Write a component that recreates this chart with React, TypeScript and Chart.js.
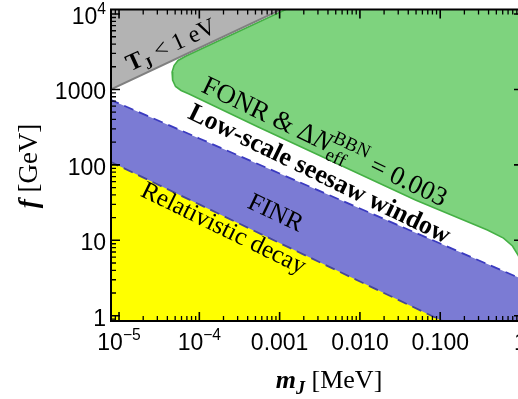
import React, { useEffect, useRef } from "react";
import { Chart, registerables } from "chart.js";

Chart.register(...registerables);

// ---------- axis ranges (log10) ----------
const X_MIN_LOG = -5.1;
const X_MAX_LOG = 0.031;
const Y_MIN_LOG = -0.07;
const Y_MAX_LOG = 4.06;

// ---------- region boundaries ----------
// T_J = 1 eV line (gray region above it)
const tjMass = [5e-6, 2e-3];
const tjF = [795, 15900];

// FINR band: upper dashed boundary
const finrUpperMass = [5e-6, 1e-4, 1e-3, 1e-2, 1e-1, 1.5];
const finrUpperF = [898, 224, 76.9, 26.4, 9.06, 2.58];

// FINR band: lower dashed boundary (top of the relativistic-decay region)
const finrLowerMass = [5e-6, 1e-4, 1e-3, 1e-2, 1e-1, 0.2];
const finrLowerF = [138, 29.9, 9.2, 2.84, 0.88, 0.62];

// FONR & ΔN_eff = 0.003 region (rounded outline)
const fonrMass = [6.84e-5, 5.43e-5, 4.85e-5, 4.58e-5, 4.65e-5, 5.06e-5, 5.93e-5, 7.46e-5, 5.41e-4, 0.0491, 0.387, 0.614, 0.794, 0.944, 1.089, 3.6, 3.6, 1.3e-3, 1.3e-3];
const fonrF = [2773, 2421, 2075, 1702, 1334, 1094, 968, 871, 318, 34.2, 13.7, 10.7, 8.4, 6.2, 4.04, 1.6, 30000, 30000, 12000];

// values outside the visible range used to close polygons
const FAR_LOW_F = 0.3;
const FAR_HIGH_F = 30000;
const FAR_LEFT_M = 5e-6;
const FAR_RIGHT_M = 1.5;

// ---------- ticks ----------
const xTickValues = [1e-5, 1e-4, 1e-3, 1e-2, 1e-1, 1];
const xTickLabels = ["10^\u22125", "10^\u22124", "0.001", "0.010", "0.100", "1"];
const yTickValues = [1, 10, 100, 1000, 10000];
const yTickLabels = ["1", "10", "100", "1000", "10^4"];

const W = 560;
const H = 399;
const PLOT = { left: 111, top: 9.5, right: 523, bottom: 321 };

type Seg = { t: string; b?: boolean; i?: boolean; k?: number; dy?: number; sub?: string; subDy?: number };

const SERIF = "'Liberation Serif', 'Times New Roman', serif";
const SANS = "'Liberation Sans', Arial, sans-serif";

// region labels: anchor in data coordinates
const regionLabels: { segs: Seg[]; m: number; f: number; angle: number; width: number }[] = [
  { segs: [{ t: "T", b: true }, { t: "J", b: true, k: 0.68, dy: 0.22 }, { t: " < 1 eV" }], m: 4.4e-5, f: 3950, angle: -24.5, width: 96 },
  {
    segs: [{ t: "FONR & \u0394" }, { t: "N", i: true }, { t: "BBN", k: 0.7, dy: -0.42, sub: "eff", subDy: 0.27 }, { t: " = 0.003" }],
    m: 3.67e-3, f: 207, angle: 25.5, width: 268,
  },
  { segs: [{ t: "Low-scale seesaw window", b: true }], m: 3.18e-3, f: 78, angle: 26, width: 288 },
  { segs: [{ t: "FINR" }], m: 9.0e-4, f: 23.7, angle: 25.5, width: 58 },
  { segs: [{ t: "Relativistic decay" }], m: 2.03e-4, f: 14.8, angle: 26, width: 180 },
];

const zip = (xs: number[], ys: number[]) => xs.map((x, i) => ({ x, y: ys[i] }));

function segFont(s: Seg, size: number, fam: string) {
  return `${s.i ? "italic " : ""}${s.b ? "bold " : ""}${(size * (s.k ?? 1)).toFixed(2)}px ${fam}`;
}
function segsWidth(ctx: CanvasRenderingContext2D, segs: Seg[], size: number, fam: string) {
  let w = 0;
  for (const s of segs) {
    ctx.font = segFont(s, size, fam);
    let sw = ctx.measureText(s.t).width;
    if (s.sub) sw = Math.max(sw, ctx.measureText(s.sub).width);
    w += sw;
  }
  return w;
}
function drawSegs(ctx: CanvasRenderingContext2D, segs: Seg[], x: number, y: number, size: number, fam: string, align: "left" | "center" | "right") {
  const w = segsWidth(ctx, segs, size, fam);
  let cx = align === "center" ? x - w / 2 : align === "right" ? x - w : x;
  ctx.textAlign = "left";
  ctx.textBaseline = "alphabetic";
  for (const s of segs) {
    ctx.font = segFont(s, size, fam);
    const tw = ctx.measureText(s.t).width;
    ctx.fillText(s.t, cx, y + (s.dy ?? 0) * size);
    let sw = tw;
    if (s.sub) {
      ctx.fillText(s.sub, cx, y + (s.subDy ?? 0) * size);
      sw = Math.max(tw, ctx.measureText(s.sub).width);
    }
    cx += sw;
  }
}
function tickSegs(label: string): Seg[] {
  const p = label.split("^");
  if (p.length === 1) return [{ t: label }];
  return [{ t: p[0] }, { t: p[1], k: 0.68, dy: -0.45 }];
}
function logTicks(minLog: number, maxLog: number) {
  const out: { v: number; major: boolean }[] = [];
  for (let d = Math.floor(minLog); d <= Math.ceil(maxLog); d++) {
    for (let k = 1; k < 10; k++) {
      const v = k * Math.pow(10, d);
      const lv = Math.log10(v);
      if (lv >= minLog - 1e-9 && lv <= maxLog + 1e-9) out.push({ v, major: k === 1 });
    }
  }
  return out;
}

const decoPlugin = {
  id: "deco",
  afterDatasetsDraw(chart: any) {
    const ctx: CanvasRenderingContext2D = chart.ctx;
    const xs = chart.scales.x;
    const ys = chart.scales.y;
    ctx.save();
    ctx.fillStyle = "#000";
    for (const L of regionLabels) {
      const size = (24 * L.width) / segsWidth(ctx, L.segs, 24, SERIF);
      const px = xs.getPixelForValue(L.m);
      const py = ys.getPixelForValue(L.f);
      ctx.save();
      ctx.translate(px, py);
      ctx.rotate((L.angle * Math.PI) / 180);
      drawSegs(ctx, L.segs, 0, 0.33 * size, size, SERIF, "center");
      ctx.restore();
    }
    ctx.restore();
  },
  afterDraw(chart: any) {
    const ctx: CanvasRenderingContext2D = chart.ctx;
    const xs = chart.scales.x;
    const ys = chart.scales.y;
    const { left, right, top, bottom } = chart.chartArea;
    ctx.save();
    ctx.strokeStyle = "#000";
    // ticks
    for (const t of logTicks(X_MIN_LOG, X_MAX_LOG)) {
      const px = xs.getPixelForValue(t.v);
      const len = t.major ? 9 : 5;
      ctx.lineWidth = t.major ? 1.6 : 1.3;
      ctx.beginPath();
      ctx.moveTo(px, bottom);
      ctx.lineTo(px, bottom - len);
      ctx.moveTo(px, top);
      ctx.lineTo(px, top + len);
      ctx.stroke();
    }
    for (const t of logTicks(Y_MIN_LOG, Y_MAX_LOG)) {
      const py = ys.getPixelForValue(t.v);
      const len = t.major ? 9 : 5;
      ctx.lineWidth = t.major ? 1.6 : 1.3;
      ctx.beginPath();
      ctx.moveTo(left, py);
      ctx.lineTo(left + len, py);
      ctx.moveTo(right, py);
      ctx.lineTo(right - len, py);
      ctx.stroke();
    }
    // frame
    ctx.lineWidth = 2;
    ctx.strokeRect(left, top, right - left, bottom - top);
    // tick labels
    ctx.fillStyle = "#000";
    xTickValues.forEach((v, i) => {
      const px = xs.getPixelForValue(v);
      drawSegs(ctx, tickSegs(xTickLabels[i]), px, bottom + 29, 23, SANS, "center");
    });
    yTickValues.forEach((v, i) => {
      const py = ys.getPixelForValue(v);
      drawSegs(ctx, tickSegs(yTickLabels[i]), left - 5, py + 10, 23, SANS, "right");
    });
    // axis titles
    drawSegs(
      ctx,
      [{ t: "m", b: true, i: true }, { t: "J", b: true, i: true, k: 0.7, dy: 0.22 }, { t: " [MeV]" }],
      329,
      388,
      26,
      SERIF,
      "center"
    );
    ctx.save();
    ctx.translate(37, 166);
    ctx.rotate(-Math.PI / 2);
    drawSegs(ctx, [{ t: "f", b: true, i: true }, { t: " [GeV]" }], 0, 0, 27, SERIF, "center");
    ctx.restore();
    ctx.restore();
  },
};

export default function App() {
  const ref = useRef<HTMLCanvasElement | null>(null);
  useEffect(() => {
    if (!ref.current) return;
    const gray = [...zip(tjMass, tjF), { x: FAR_LEFT_M, y: FAR_HIGH_F }];
    const green = zip(fonrMass, fonrF);
    const blue = [...zip(finrUpperMass, finrUpperF), { x: FAR_RIGHT_M, y: FAR_LOW_F }, { x: FAR_LEFT_M, y: FAR_LOW_F }];
    const yellow = [...zip(finrLowerMass, finrLowerF), { x: FAR_RIGHT_M, y: FAR_LOW_F }, { x: FAR_LEFT_M, y: FAR_LOW_F }];
    const close = (p: { x: number; y: number }[]) => [...p, p[0]];
    const common = { fill: "shape" as any, pointRadius: 0, tension: 0, clip: 0 as any };
    const chart = new Chart(ref.current, {
      type: "line",
      data: {
        datasets: [
          { ...common, label: "T_J < 1 eV", data: close(gray), backgroundColor: "#B3B3B3", borderColor: "#808080", borderWidth: 2, order: 1 },
          { ...common, label: "FONR", data: close(green), backgroundColor: "#7ED37E", borderColor: "#45B045", borderWidth: 1.6, order: 2 },
          { ...common, label: "Relativistic decay", data: close(yellow), backgroundColor: "#FFFF00", borderColor: "#474796", borderWidth: 1.8, borderDash: [10, 6], order: 3 },
          { ...common, label: "FINR", data: close(blue), backgroundColor: "#7B7BD4", borderColor: "#3B3BC0", borderWidth: 1.8, borderDash: [10, 6], order: 4 },
        ] as any,
      },
      options: {
        animation: false,
        responsive: false,
        maintainAspectRatio: false,
        events: [],
        layout: { padding: { left: PLOT.left, top: PLOT.top, right: W - PLOT.right, bottom: H - PLOT.bottom } },
        plugins: { legend: { display: false }, tooltip: { enabled: false } },
        scales: {
          x: { type: "logarithmic", min: Math.pow(10, X_MIN_LOG), max: Math.pow(10, X_MAX_LOG), display: false },
          y: { type: "logarithmic", min: Math.pow(10, Y_MIN_LOG), max: Math.pow(10, Y_MAX_LOG), display: false },
        },
      } as any,
      plugins: [decoPlugin],
    });
    return () => chart.destroy();
  }, []);
  return (
    <div style={{ position: "fixed", left: 0, top: 0, width: W, height: H, overflow: "hidden", background: "#fff" }}>
      <canvas ref={ref} width={W} height={H} style={{ width: W, height: H, display: "block" }} />
    </div>
  );
}
